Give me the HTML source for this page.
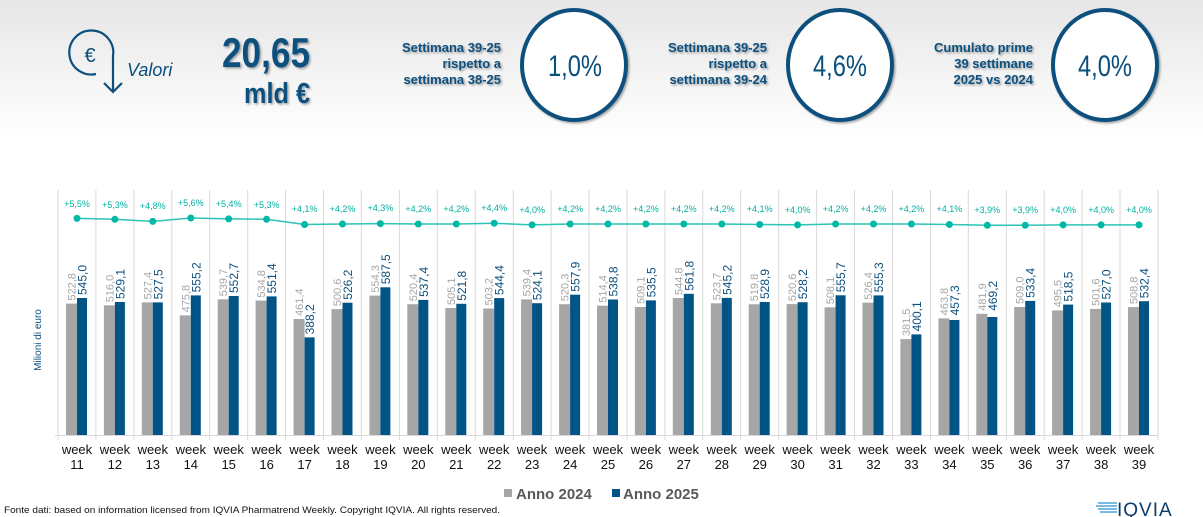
<!DOCTYPE html>
<html><head><meta charset="utf-8"><style>
html,body{margin:0;padding:0;}
body{width:1203px;height:517px;overflow:hidden;background:linear-gradient(#e6e6e6 0px,#fafafa 110px,#fff 140px);font-family:"Liberation Sans",sans-serif;}
svg{display:block}
.g{fill:#a6a6a6}.b{fill:#005486}
.gl{fill:#a6a6a6;font-size:11px}.bl{fill:#0b4f7d;font-size:12px}
.p{fill:#00b0a0;font-size:9px;text-anchor:middle}
.w{fill:#111;font-size:13px;text-anchor:middle}
.h{fill:#0b4f7d;font-weight:bold;font-size:13px;text-anchor:end}
</style></head><body>
<svg width="1203" height="517" viewBox="0 0 1203 517" xmlns="http://www.w3.org/2000/svg">
<defs><filter id="sh"><feDropShadow dx="1.5" dy="1.5" stdDeviation="1" flood-color="#000" flood-opacity="0.35"/></filter></defs>
<g fill="none" stroke="#0b4f7d" stroke-width="2.2">
<path d="M113 56 A22 22 0 1 0 96 74"/>
<path d="M113 56 V92 M104 83 L113 92 L122 83"/>
</g>
<text x="90" y="62" font-size="20" fill="#0b4f7d" text-anchor="middle">€</text>
<text x="127" y="76" font-size="18" font-style="italic" fill="#0b4f7d">Valori</text>
<g filter="url(#sh)" fill="#0b4f7d" font-weight="bold">
<text x="222" y="67" font-size="42" textLength="88" lengthAdjust="spacingAndGlyphs">20,65</text>
<text x="244" y="103" font-size="29" textLength="66" lengthAdjust="spacingAndGlyphs">mld €</text>
</g>
<g filter="url(#sh)">
<text class="h" x="501" y="52">Settimana 39-25</text>
<text class="h" x="501" y="68">rispetto a</text>
<text class="h" x="501" y="84">settimana 38-25</text>
<text class="h" x="767" y="52">Settimana 39-25</text>
<text class="h" x="767" y="68">rispetto a</text>
<text class="h" x="767" y="84">settimana 39-24</text>
<text class="h" x="1033" y="52">Cumulato prime</text>
<text class="h" x="1033" y="68">39 settimane</text>
<text class="h" x="1033" y="84">2025 vs 2024</text>
</g>
<g fill="#fff" stroke="#0b4f7d" stroke-width="4" filter="url(#sh)">
<ellipse cx="574" cy="65" rx="52" ry="55"/>
<ellipse cx="840" cy="65" rx="52" ry="55"/>
<ellipse cx="1105" cy="65" rx="52" ry="55"/>
</g>
<g fill="#0b4f7d" font-size="30">
<text x="548" y="76" textLength="54" lengthAdjust="spacingAndGlyphs">1,0%</text>
<text x="813" y="76" textLength="54" lengthAdjust="spacingAndGlyphs">4,6%</text>
<text x="1078" y="76" textLength="54" lengthAdjust="spacingAndGlyphs">4,0%</text>
</g>
<g stroke="#d9d9d9" stroke-width="1">
<path d="M58 190V440M95.9 190V440M133.9 190V440M171.8 190V440M209.7 190V440M247.7 190V440M285.6 190V440M323.5 190V440M361.4 190V440M399.4 190V440M437.3 190V440M475.2 190V440M513.2 190V440M551.1 190V440M589 190V440M627 190V440M664.9 190V440M702.8 190V440M740.7 190V440M778.7 190V440M816.6 190V440M854.5 190V440M892.5 190V440M930.4 190V440M968.3 190V440M1006.3 190V440M1044.2 190V440M1082.1 190V440M1120 190V440M1158 190V440"/>
<path d="M55 435.5H1158"/>
</g>
<text transform="translate(41,340) rotate(-90)" font-size="10" fill="#0b4f7d" text-anchor="middle">Milioni di euro</text>
<polyline fill="none" stroke="#2cc4b4" stroke-width="1.5" points="77,218.4 114.9,219.3 152.8,221.4 190.8,218 228.7,218.9 266.6,219.3 304.6,224.5 342.5,224 380.4,223.6 418.3,224 456.3,224 494.2,223.2 532.1,224.9 570.1,224 608,224 645.9,224 683.8,224 721.8,224 759.7,224.5 797.6,224.9 835.6,224 873.5,224 911.4,224 949.4,224.5 987.3,225.3 1025.2,225.3 1063.1,224.9 1101.1,224.9 1139,224.9"/>
<g fill="#00b8a6">
<circle cx="77" cy="218.4" r="3.5"/><circle cx="114.9" cy="219.3" r="3.5"/><circle cx="152.8" cy="221.4" r="3.5"/><circle cx="190.8" cy="218" r="3.5"/><circle cx="228.7" cy="218.9" r="3.5"/><circle cx="266.6" cy="219.3" r="3.5"/><circle cx="304.6" cy="224.5" r="3.5"/><circle cx="342.5" cy="224" r="3.5"/><circle cx="380.4" cy="223.6" r="3.5"/><circle cx="418.3" cy="224" r="3.5"/><circle cx="456.3" cy="224" r="3.5"/><circle cx="494.2" cy="223.2" r="3.5"/><circle cx="532.1" cy="224.9" r="3.5"/><circle cx="570.1" cy="224" r="3.5"/><circle cx="608" cy="224" r="3.5"/><circle cx="645.9" cy="224" r="3.5"/><circle cx="683.8" cy="224" r="3.5"/><circle cx="721.8" cy="224" r="3.5"/><circle cx="759.7" cy="224.5" r="3.5"/><circle cx="797.6" cy="224.9" r="3.5"/><circle cx="835.6" cy="224" r="3.5"/><circle cx="873.5" cy="224" r="3.5"/><circle cx="911.4" cy="224" r="3.5"/><circle cx="949.4" cy="224.5" r="3.5"/><circle cx="987.3" cy="225.3" r="3.5"/><circle cx="1025.2" cy="225.3" r="3.5"/><circle cx="1063.1" cy="224.9" r="3.5"/><circle cx="1101.1" cy="224.9" r="3.5"/><circle cx="1139" cy="224.9" r="3.5"/>
</g>
<g>
<text class="p" x="77" y="207">+5,5%</text><text class="p" x="114.9" y="208">+5,3%</text><text class="p" x="152.8" y="209">+4,8%</text><text class="p" x="190.8" y="206">+5,6%</text><text class="p" x="228.7" y="207">+5,4%</text><text class="p" x="266.6" y="208">+5,3%</text><text class="p" x="304.6" y="212">+4,1%</text><text class="p" x="342.5" y="212">+4,2%</text><text class="p" x="380.4" y="211">+4,3%</text><text class="p" x="418.3" y="212">+4,2%</text><text class="p" x="456.3" y="212">+4,2%</text><text class="p" x="494.2" y="211">+4,4%</text><text class="p" x="532.1" y="213">+4,0%</text><text class="p" x="570.1" y="212">+4,2%</text><text class="p" x="608" y="212">+4,2%</text><text class="p" x="645.9" y="212">+4,2%</text><text class="p" x="683.8" y="212">+4,2%</text><text class="p" x="721.8" y="212">+4,2%</text><text class="p" x="759.7" y="212">+4,1%</text><text class="p" x="797.6" y="213">+4,0%</text><text class="p" x="835.6" y="212">+4,2%</text><text class="p" x="873.5" y="212">+4,2%</text><text class="p" x="911.4" y="212">+4,2%</text><text class="p" x="949.4" y="212">+4,1%</text><text class="p" x="987.3" y="213">+3,9%</text><text class="p" x="1025.2" y="213">+3,9%</text><text class="p" x="1063.1" y="213">+4,0%</text><text class="p" x="1101.1" y="213">+4,0%</text><text class="p" x="1139" y="213">+4,0%</text>
</g>
<g transform="translate(77,0)"><rect class="g" x="-11" y="303.6" width="11" height="131.4"/><rect class="b" x="0" y="298" width="10" height="137"/><text class="gl" transform="translate(-1.5,300.6) rotate(-90)">522,8</text><text class="bl" transform="translate(9.5,295) rotate(-90)">545,0</text></g>
<g transform="translate(114.9,0)"><rect class="g" x="-11" y="305.3" width="11" height="129.7"/><rect class="b" x="0" y="302" width="10" height="133"/><text class="gl" transform="translate(-1.5,302.3) rotate(-90)">516,0</text><text class="bl" transform="translate(9.5,299) rotate(-90)">529,1</text></g>
<g transform="translate(152.8,0)"><rect class="g" x="-11" y="302.4" width="11" height="132.6"/><rect class="b" x="0" y="302.4" width="10" height="132.6"/><text class="gl" transform="translate(-1.5,299.4) rotate(-90)">527,4</text><text class="bl" transform="translate(9.5,299.4) rotate(-90)">527,5</text></g>
<g transform="translate(190.8,0)"><rect class="g" x="-11" y="315.4" width="11" height="119.6"/><rect class="b" x="0" y="295.4" width="10" height="139.6"/><text class="gl" transform="translate(-1.5,312.4) rotate(-90)">475,8</text><text class="bl" transform="translate(9.5,292.4) rotate(-90)">555,2</text></g>
<g transform="translate(228.7,0)"><rect class="g" x="-11" y="299.3" width="11" height="135.7"/><rect class="b" x="0" y="296" width="10" height="139"/><text class="gl" transform="translate(-1.5,296.3) rotate(-90)">539,7</text><text class="bl" transform="translate(9.5,293) rotate(-90)">552,7</text></g>
<g transform="translate(266.6,0)"><rect class="g" x="-11" y="300.6" width="11" height="134.4"/><rect class="b" x="0" y="296.4" width="10" height="138.6"/><text class="gl" transform="translate(-1.5,297.6) rotate(-90)">534,8</text><text class="bl" transform="translate(9.5,293.4) rotate(-90)">551,4</text></g>
<g transform="translate(304.6,0)"><rect class="g" x="-11" y="319" width="11" height="116"/><rect class="b" x="0" y="337.4" width="10" height="97.6"/><text class="gl" transform="translate(-1.5,316) rotate(-90)">461,4</text><text class="bl" transform="translate(9.5,334.4) rotate(-90)">388,2</text></g>
<g transform="translate(342.5,0)"><rect class="g" x="-11" y="309.1" width="11" height="125.9"/><rect class="b" x="0" y="302.7" width="10" height="132.3"/><text class="gl" transform="translate(-1.5,306.1) rotate(-90)">500,6</text><text class="bl" transform="translate(9.5,299.7) rotate(-90)">526,2</text></g>
<g transform="translate(380.4,0)"><rect class="g" x="-11" y="295.6" width="11" height="139.4"/><rect class="b" x="0" y="287.3" width="10" height="147.7"/><text class="gl" transform="translate(-1.5,292.6) rotate(-90)">554,3</text><text class="bl" transform="translate(9.5,284.3) rotate(-90)">587,5</text></g>
<g transform="translate(418.3,0)"><rect class="g" x="-11" y="304.2" width="11" height="130.8"/><rect class="b" x="0" y="299.9" width="10" height="135.1"/><text class="gl" transform="translate(-1.5,301.2) rotate(-90)">520,4</text><text class="bl" transform="translate(9.5,296.9) rotate(-90)">537,4</text></g>
<g transform="translate(456.3,0)"><rect class="g" x="-11" y="308" width="11" height="127"/><rect class="b" x="0" y="303.8" width="10" height="131.2"/><text class="gl" transform="translate(-1.5,305) rotate(-90)">505,1</text><text class="bl" transform="translate(9.5,300.8) rotate(-90)">521,8</text></g>
<g transform="translate(494.2,0)"><rect class="g" x="-11" y="308.5" width="11" height="126.5"/><rect class="b" x="0" y="298.1" width="10" height="136.9"/><text class="gl" transform="translate(-1.5,305.5) rotate(-90)">503,2</text><text class="bl" transform="translate(9.5,295.1) rotate(-90)">544,4</text></g>
<g transform="translate(532.1,0)"><rect class="g" x="-11" y="299.4" width="11" height="135.6"/><rect class="b" x="0" y="303.2" width="10" height="131.8"/><text class="gl" transform="translate(-1.5,296.4) rotate(-90)">539,4</text><text class="bl" transform="translate(9.5,300.2) rotate(-90)">524,1</text></g>
<g transform="translate(570.1,0)"><rect class="g" x="-11" y="304.2" width="11" height="130.8"/><rect class="b" x="0" y="294.7" width="10" height="140.3"/><text class="gl" transform="translate(-1.5,301.2) rotate(-90)">520,3</text><text class="bl" transform="translate(9.5,291.7) rotate(-90)">557,9</text></g>
<g transform="translate(608,0)"><rect class="g" x="-11" y="305.7" width="11" height="129.3"/><rect class="b" x="0" y="299.5" width="10" height="135.5"/><text class="gl" transform="translate(-1.5,302.7) rotate(-90)">514,4</text><text class="bl" transform="translate(9.5,296.5) rotate(-90)">538,8</text></g>
<g transform="translate(645.9,0)"><rect class="g" x="-11" y="307" width="11" height="128"/><rect class="b" x="0" y="300.4" width="10" height="134.6"/><text class="gl" transform="translate(-1.5,304) rotate(-90)">509,1</text><text class="bl" transform="translate(9.5,297.4) rotate(-90)">535,5</text></g>
<g transform="translate(683.8,0)"><rect class="g" x="-11" y="298" width="11" height="137"/><rect class="b" x="0" y="293.8" width="10" height="141.2"/><text class="gl" transform="translate(-1.5,295) rotate(-90)">544,8</text><text class="bl" transform="translate(9.5,290.8) rotate(-90)">561,8</text></g>
<g transform="translate(721.8,0)"><rect class="g" x="-11" y="303.3" width="11" height="131.7"/><rect class="b" x="0" y="297.9" width="10" height="137.1"/><text class="gl" transform="translate(-1.5,300.3) rotate(-90)">523,7</text><text class="bl" transform="translate(9.5,294.9) rotate(-90)">545,2</text></g>
<g transform="translate(759.7,0)"><rect class="g" x="-11" y="304.3" width="11" height="130.7"/><rect class="b" x="0" y="302" width="10" height="133"/><text class="gl" transform="translate(-1.5,301.3) rotate(-90)">519,8</text><text class="bl" transform="translate(9.5,299) rotate(-90)">528,9</text></g>
<g transform="translate(797.6,0)"><rect class="g" x="-11" y="304.1" width="11" height="130.9"/><rect class="b" x="0" y="302.2" width="10" height="132.8"/><text class="gl" transform="translate(-1.5,301.1) rotate(-90)">520,6</text><text class="bl" transform="translate(9.5,299.2) rotate(-90)">528,2</text></g>
<g transform="translate(835.6,0)"><rect class="g" x="-11" y="307.3" width="11" height="127.7"/><rect class="b" x="0" y="295.3" width="10" height="139.7"/><text class="gl" transform="translate(-1.5,304.3) rotate(-90)">508,1</text><text class="bl" transform="translate(9.5,292.3) rotate(-90)">555,7</text></g>
<g transform="translate(873.5,0)"><rect class="g" x="-11" y="302.7" width="11" height="132.3"/><rect class="b" x="0" y="295.4" width="10" height="139.6"/><text class="gl" transform="translate(-1.5,299.7) rotate(-90)">526,4</text><text class="bl" transform="translate(9.5,292.4) rotate(-90)">555,3</text></g>
<g transform="translate(911.4,0)"><rect class="g" x="-11" y="339.1" width="11" height="95.9"/><rect class="b" x="0" y="334.4" width="10" height="100.6"/><text class="gl" transform="translate(-1.5,336.1) rotate(-90)">381,5</text><text class="bl" transform="translate(9.5,331.4) rotate(-90)">400,1</text></g>
<g transform="translate(949.4,0)"><rect class="g" x="-11" y="318.4" width="11" height="116.6"/><rect class="b" x="0" y="320" width="10" height="115"/><text class="gl" transform="translate(-1.5,315.4) rotate(-90)">463,8</text><text class="bl" transform="translate(9.5,315.4) rotate(-90)">457,3</text></g>
<g transform="translate(987.3,0)"><rect class="g" x="-11" y="313.8" width="11" height="121.2"/><rect class="b" x="0" y="317" width="10" height="118"/><text class="gl" transform="translate(-1.5,310.8) rotate(-90)">481,9</text><text class="bl" transform="translate(9.5,310.8) rotate(-90)">469,2</text></g>
<g transform="translate(1025.2,0)"><rect class="g" x="-11" y="307" width="11" height="128"/><rect class="b" x="0" y="300.9" width="10" height="134.1"/><text class="gl" transform="translate(-1.5,304) rotate(-90)">509,0</text><text class="bl" transform="translate(9.5,297.9) rotate(-90)">533,4</text></g>
<g transform="translate(1063.1,0)"><rect class="g" x="-11" y="310.4" width="11" height="124.6"/><rect class="b" x="0" y="304.6" width="10" height="130.4"/><text class="gl" transform="translate(-1.5,307.4) rotate(-90)">495,5</text><text class="bl" transform="translate(9.5,301.6) rotate(-90)">518,5</text></g>
<g transform="translate(1101.1,0)"><rect class="g" x="-11" y="308.9" width="11" height="126.1"/><rect class="b" x="0" y="302.5" width="10" height="132.5"/><text class="gl" transform="translate(-1.5,305.9) rotate(-90)">501,6</text><text class="bl" transform="translate(9.5,299.5) rotate(-90)">527,0</text></g>
<g transform="translate(1139,0)"><rect class="g" x="-11" y="307.1" width="11" height="127.9"/><rect class="b" x="0" y="301.2" width="10" height="133.8"/><text class="gl" transform="translate(-1.5,304.1) rotate(-90)">508,8</text><text class="bl" transform="translate(9.5,298.2) rotate(-90)">532,4</text></g>
<g>
<text class="w" x="77" y="454">week</text><text class="w" x="77" y="469">11</text>
<text class="w" x="114.9" y="454">week</text><text class="w" x="114.9" y="469">12</text>
<text class="w" x="152.8" y="454">week</text><text class="w" x="152.8" y="469">13</text>
<text class="w" x="190.8" y="454">week</text><text class="w" x="190.8" y="469">14</text>
<text class="w" x="228.7" y="454">week</text><text class="w" x="228.7" y="469">15</text>
<text class="w" x="266.6" y="454">week</text><text class="w" x="266.6" y="469">16</text>
<text class="w" x="304.6" y="454">week</text><text class="w" x="304.6" y="469">17</text>
<text class="w" x="342.5" y="454">week</text><text class="w" x="342.5" y="469">18</text>
<text class="w" x="380.4" y="454">week</text><text class="w" x="380.4" y="469">19</text>
<text class="w" x="418.3" y="454">week</text><text class="w" x="418.3" y="469">20</text>
<text class="w" x="456.3" y="454">week</text><text class="w" x="456.3" y="469">21</text>
<text class="w" x="494.2" y="454">week</text><text class="w" x="494.2" y="469">22</text>
<text class="w" x="532.1" y="454">week</text><text class="w" x="532.1" y="469">23</text>
<text class="w" x="570.1" y="454">week</text><text class="w" x="570.1" y="469">24</text>
<text class="w" x="608" y="454">week</text><text class="w" x="608" y="469">25</text>
<text class="w" x="645.9" y="454">week</text><text class="w" x="645.9" y="469">26</text>
<text class="w" x="683.8" y="454">week</text><text class="w" x="683.8" y="469">27</text>
<text class="w" x="721.8" y="454">week</text><text class="w" x="721.8" y="469">28</text>
<text class="w" x="759.7" y="454">week</text><text class="w" x="759.7" y="469">29</text>
<text class="w" x="797.6" y="454">week</text><text class="w" x="797.6" y="469">30</text>
<text class="w" x="835.6" y="454">week</text><text class="w" x="835.6" y="469">31</text>
<text class="w" x="873.5" y="454">week</text><text class="w" x="873.5" y="469">32</text>
<text class="w" x="911.4" y="454">week</text><text class="w" x="911.4" y="469">33</text>
<text class="w" x="949.4" y="454">week</text><text class="w" x="949.4" y="469">34</text>
<text class="w" x="987.3" y="454">week</text><text class="w" x="987.3" y="469">35</text>
<text class="w" x="1025.2" y="454">week</text><text class="w" x="1025.2" y="469">36</text>
<text class="w" x="1063.1" y="454">week</text><text class="w" x="1063.1" y="469">37</text>
<text class="w" x="1101.1" y="454">week</text><text class="w" x="1101.1" y="469">38</text>
<text class="w" x="1139" y="454">week</text><text class="w" x="1139" y="469">39</text>
</g>
<rect x="504" y="489" width="8" height="8" fill="#a6a6a6"/>
<text x="516" y="499" font-size="15" font-weight="bold" fill="#595959">Anno 2024</text>
<rect x="612" y="489" width="8" height="8" fill="#005486"/>
<text x="623" y="499" font-size="15" font-weight="bold" fill="#595959">Anno 2025</text>
<text x="4" y="513" font-size="9.5" fill="#111" textLength="496" lengthAdjust="spacingAndGlyphs">Fonte dati: based on information licensed from IQVIA Pharmatrend Weekly. Copyright IQVIA. All rights reserved.</text>
<g stroke="#2a8fd0" stroke-width="1.3">
<path d="M1098 503H1117M1096 506H1117M1098 509H1117M1100 512H1117"/>
</g>
<text x="1117" y="516" font-size="19" fill="#0b3d6b" letter-spacing="1">IQVIA</text>
</svg>
</body></html>
